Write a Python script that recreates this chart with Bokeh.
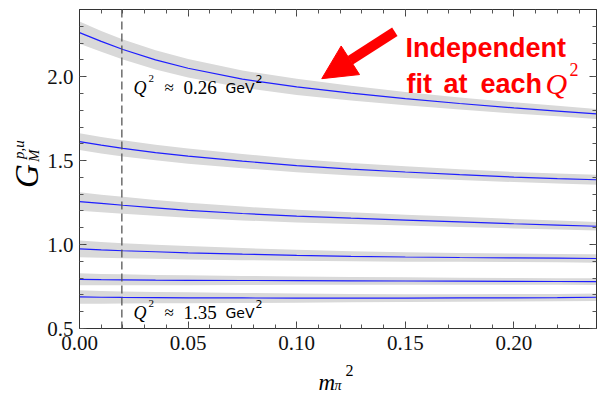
import math
from bokeh.plotting import figure
from bokeh.layouts import row, column
from bokeh.models import (Range1d, LinearAxis, FixedTicker, PrintfTickFormatter,
                          Span, Label, Arrow, NormalHead)
from bokeh.embed import file_html
from bokeh.resources import INLINE

# ---------------- data ----------------
mpi2 = [0.0, 0.01, 0.02, 0.035, 0.05, 0.075, 0.10, 0.125, 0.15, 0.175, 0.20, 0.22, 0.238]

g1 = [2.262, 2.210, 2.162, 2.100, 2.050, 1.985, 1.939, 1.902, 1.869, 1.840, 1.814, 1.795, 1.778]
g2 = [1.613, 1.592, 1.573, 1.548, 1.527, 1.497, 1.470, 1.449, 1.432, 1.416, 1.402, 1.393, 1.386]
g3 = [1.256, 1.245, 1.234, 1.219, 1.204, 1.185, 1.169, 1.157, 1.146, 1.135, 1.124, 1.116, 1.109]
g4 = [0.974, 0.968, 0.963, 0.957, 0.951, 0.943, 0.936, 0.930, 0.926, 0.923, 0.921, 0.919, 0.917]
g5 = [0.793, 0.791, 0.790, 0.788, 0.787, 0.786, 0.785, 0.784, 0.783, 0.782, 0.781, 0.780, 0.779]
g6 = [0.688, 0.686, 0.685, 0.684, 0.683, 0.682, 0.681, 0.681, 0.681, 0.682, 0.683, 0.684, 0.686]

e1 = [0.066, 0.062, 0.060, 0.057, 0.055, 0.051, 0.048, 0.044, 0.040, 0.036, 0.033, 0.031, 0.030]
e2 = [0.050, 0.049, 0.048, 0.046, 0.045, 0.042, 0.040, 0.037, 0.035, 0.032, 0.030, 0.030, 0.030]
e3 = [0.055, 0.052, 0.050, 0.047, 0.045, 0.041, 0.038, 0.035, 0.032, 0.030, 0.028, 0.027, 0.026]
e4 = [0.050, 0.047, 0.045, 0.042, 0.040, 0.036, 0.033, 0.030, 0.028, 0.026, 0.025, 0.025, 0.025]
e5 = [0.036, 0.034, 0.033, 0.031, 0.030, 0.027, 0.025, 0.023, 0.022, 0.021, 0.020, 0.020, 0.020]
e6 = [0.040, 0.038, 0.036, 0.034, 0.033, 0.030, 0.027, 0.025, 0.023, 0.022, 0.022, 0.022, 0.022]

series = [g1, g2, g3, g4, g5, g6]
errors = [e1, e2, e3, e4, e5, e6]

mpi2_phys = 0.0195

x_major = [0.0, 0.05, 0.10, 0.15, 0.20]
x_minor = [i * 0.01 for i in range(0, 25)]
y_major = [0.5, 1.0, 1.5, 2.0]
y_minor = [0.5 + i * 0.1 for i in range(0, 20)]

X0, X1 = 0.0, 0.238
Y0, Y1 = 0.5, 2.4

SERIF = "Liberation Serif"
LEFT_W = 44     # width of the y-label strip
MAIN_H = 360    # height of the main figure
TOTAL_W = 597
TOTAL_H = 393

# ---------------- main figure ----------------
p = figure(width=TOTAL_W - LEFT_W, height=MAIN_H, output_backend="svg", toolbar_location=None,
           x_range=Range1d(X0, X1), y_range=Range1d(Y0, Y1),
           min_border_left=79 - LEFT_W, min_border_right=1, min_border_top=9,
           min_border_bottom=MAIN_H - 328,
           x_axis_location=None, y_axis_location=None)
p.grid.visible = False
p.outline_line_color = "#333333"
p.background_fill_color = "white"
p.border_fill_color = "white"


def make_axis(ticks, minors, fmt, show_labels):
    ax = LinearAxis(ticker=FixedTicker(ticks=ticks, minor_ticks=minors),
                    formatter=PrintfTickFormatter(format=fmt))
    ax.axis_line_color = "#333333"
    ax.major_tick_in = 7
    ax.major_tick_out = 0
    ax.minor_tick_in = 4
    ax.minor_tick_out = 0
    ax.major_tick_line_color = "#444444"
    ax.minor_tick_line_color = "#555555"
    if show_labels:
        ax.major_label_text_font = SERIF
        ax.major_label_text_font_size = "21px"
        ax.major_label_text_color = "#111111"
    else:
        ax.major_label_overrides = {t: "" for t in ticks}
        ax.major_label_standoff = 0
    return ax


xb = make_axis(x_major, x_minor, "%.2f", True)
xb.major_label_standoff = 7
yl = make_axis(y_major, y_minor, "%.1f", True)
yl.major_label_standoff = 6
xt = make_axis(x_major, x_minor, "%.2f", False)
yr = make_axis(y_major, y_minor, "%.1f", False)
p.add_layout(xb, "below")
p.add_layout(yl, "left")
p.add_layout(xt, "above")
p.add_layout(yr, "right")

# bands + curves
for g, e in zip(series, errors):
    lo = [a - b for a, b in zip(g, e)]
    hi = [a + b for a, b in zip(g, e)]
    p.varea(x=mpi2, y1=lo, y2=hi, fill_color="#d9d9d9", fill_alpha=1.0)
for g in series:
    p.line(x=mpi2, y=g, line_color="#1e1eff", line_width=1.2)

p.add_layout(Span(location=mpi2_phys, dimension="height", line_color="#555555",
                  line_dash="8 4", line_width=1.3))

# ---------------- text helpers (main figure) ----------------
FX = 79   # page x of frame left edge
FB = 328  # page y of frame bottom
PPY = 168.0  # pixels per unit y


def lab(text, px, py, size, font=SERIF, style="normal", color="black", angle=0,
        align="left", baseline="alphabetic"):
    v = Y0 + (FB - py) / PPY
    p.add_layout(Label(x=X0, y=v, x_offset=px - FX, text=text, text_font=font,
                       text_font_size=f"{size}px", text_font_style=style,
                       text_color=color, angle=angle, text_align=align,
                       text_baseline=baseline))


# Q^2 labels
for py, val in [(87, "0.26"), (312, "1.35")]:
    lab("Q", 133, py, 18, style="italic")
    lab("2", 148, py - 9, 11)
    lab("≈", 164, py, 17)
    lab(val, 183, py, 19)
    lab("GeV", 225, py, 14, font="DejaVu Sans")
    lab("2", 255, py - 9, 11, font="DejaVu Sans")

# red annotation
RED = "#ff0000"
lab("Independent", 405, 47, 27, font="Liberation Sans", style="bold", color=RED)
lab("fit", 406, 83, 27, font="Liberation Sans", style="bold", color=RED)
lab("at", 443, 83, 27, font="Liberation Sans", style="bold", color=RED)
lab("each", 480, 83, 27, font="Liberation Sans", style="bold", color=RED)
lab("Q", 545, 83, 30, style="italic", color=RED)
lab("2", 569, 69, 18, color=RED)


def dx(px):
    return X0 + (px - FX) / 2170.0


def dy(py):
    return Y0 + (FB - py) / PPY


p.add_layout(Arrow(x_start=dx(394), y_start=dy(31), x_end=dx(321), y_end=dy(78),
                   line_color=RED, line_width=10,
                   end=NormalHead(size=34, fill_color=RED, line_color=RED, line_width=1)))


# ---------------- label strips (page-pixel coordinates) ----------------
def strip(w, h, y_top):
    f = figure(width=w, height=h, output_backend="svg", toolbar_location=None,
               x_range=Range1d(0, w), y_range=Range1d(y_top + h, y_top),
               min_border=0, x_axis_location=None, y_axis_location=None)
    f.grid.visible = False
    f.outline_line_color = None
    f.background_fill_color = "white"
    f.border_fill_color = "white"
    return f


def slab(f, text, x, y, size, style="normal", angle=0, align="left", baseline="alphabetic"):
    f.add_layout(Label(x=x, y=y, text=text, text_font=SERIF, text_font_size=f"{size}px",
                       text_font_style=style, text_color="black", angle=angle,
                       text_align=align, text_baseline=baseline))


ylab = strip(LEFT_W, MAIN_H, 0)
slab(ylab, "G", 26, 188, 33, style="italic", angle=math.pi / 2, align="center", baseline="middle")
slab(ylab, "p,u", 18, 158, 15, style="italic", angle=math.pi / 2, align="center", baseline="middle")
slab(ylab, "M", 33, 165, 15, style="italic", angle=math.pi / 2, align="center", baseline="middle")

xlab = strip(TOTAL_W, TOTAL_H - MAIN_H, MAIN_H)
slab(xlab, "m", 318, 382, 23, style="italic")
slab(xlab, "π", 334, 385, 14, style="italic")
slab(xlab, "2", 345, 370, 16)

layout = column(row(ylab, p, spacing=0), xlab, spacing=0)

open("out.html", "w").write(file_html(layout, INLINE))
